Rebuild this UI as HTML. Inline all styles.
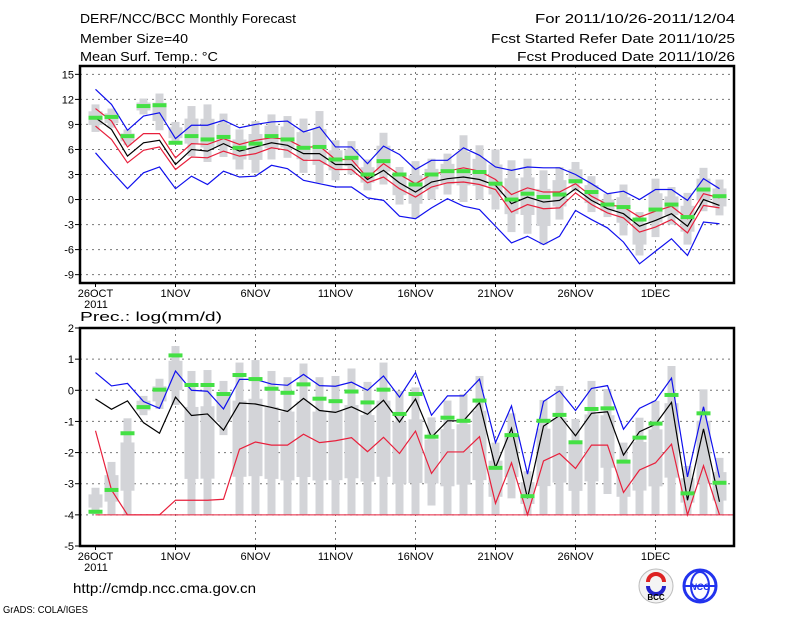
<!DOCTYPE html>
<html><head><meta charset="utf-8"><style>
body{margin:0;background:#fff;}
svg text{font-family:"Liberation Sans",sans-serif;fill:#000;}
</style></head><body>
<svg id="c" width="800" height="618" viewBox="0 0 800 618" xmlns="http://www.w3.org/2000/svg">
<text x="80" y="23" font-size="13" textLength="216" lengthAdjust="spacingAndGlyphs">DERF/NCC/BCC Monthly Forecast</text>
<text x="80" y="43" font-size="13" textLength="108" lengthAdjust="spacingAndGlyphs">Member Size=40</text>
<text x="80" y="61" font-size="13" textLength="138" lengthAdjust="spacingAndGlyphs">Mean Surf. Temp.: °C</text>
<text x="735" y="23" font-size="13" text-anchor="end" textLength="200" lengthAdjust="spacingAndGlyphs">For 2011/10/26-2011/12/04</text>
<text x="735" y="43" font-size="13" text-anchor="end" textLength="244" lengthAdjust="spacingAndGlyphs">Fcst Started Refer Date 2011/10/25</text>
<text x="735" y="61" font-size="13" text-anchor="end" textLength="218" lengthAdjust="spacingAndGlyphs">Fcst Produced Date 2011/10/26</text>
<text x="80" y="321" font-size="13" textLength="142" lengthAdjust="spacingAndGlyphs">Prec.: log(mm/d)</text>
<text x="73" y="593" font-size="14" textLength="183" lengthAdjust="spacingAndGlyphs">http://cmdp.ncc.cma.gov.cn</text>
<text x="3" y="613" font-size="10" textLength="85" lengthAdjust="spacingAndGlyphs">GrADS: COLA/IGES</text>
<g>
<circle cx="656" cy="586" r="17" fill="#f4f4f4" stroke="#bbb"/>
<path d="M648 582 a8 8 0 1 1 16 0" fill="none" stroke="#d22" stroke-width="4"/>
<path d="M648 586 a8 8 0 0 0 16 0" fill="none" stroke="#22c" stroke-width="4"/>
<text x="656" y="600" font-size="8" text-anchor="middle" font-weight="bold">BCC</text>
</g>
<g>
<circle cx="700" cy="586" r="16" fill="#fff" stroke="#23e" stroke-width="3"/>
<ellipse cx="700" cy="586" rx="9" ry="14" fill="none" stroke="#23e" stroke-width="2"/>
<line x1="685" y1="586" x2="715" y2="586" stroke="#23e" stroke-width="2"/>
<text x="700" y="590" font-size="9" text-anchor="middle" font-style="italic" font-weight="bold" style="fill:#23e">NCC</text>
</g>
</svg>
<script>
// ---- Temperature panel data (40 days from 26 Oct 2011) ----
const dayLabels=["26OCT","1NOV","6NOV","11NOV","16NOV","21NOV","26NOV","1DEC"];
const tempTicks=[15,12,9,6,3,0,-3,-6,-9];
const precTicks=[2,1,0,-1,-2,-3,-4,-5];
const tBlueHi=[13.2,11.4,8.3,10,10.4,7.3,8.9,8.9,9.5,8.6,9,9.3,9.4,8.1,8.7,6.3,6.3,4.3,6.4,5.4,3.6,4.7,4.7,6.2,5.3,3.9,3.5,3.9,3.8,3.8,3,1.9,0.7,1,0,1.2,1.2,-0.1,2.5,1.3];
const tRedHi=[10.9,9.4,6.3,7.9,7.9,5,6.7,6.6,7.3,6.6,7.1,7.4,7.2,6.2,6.4,4.8,4.8,2.6,4.3,3,1.9,3,3.4,3.8,3.4,2.4,0.6,1.4,0.9,0.9,1.9,0.4,-0.6,-0.9,-2.1,-1.4,-0.8,-2.3,0.7,0.2];
const tMean=[9.8,8.4,5.2,6.8,7.1,4.2,6,5.8,6.7,5.8,6.3,6.8,6.5,5.5,5.5,4.2,4.2,2.4,3.5,2,0.9,2.1,2.5,2.7,2.4,1.7,-0.5,0.3,-0.3,-0.1,1.3,-0.1,-1.1,-1.7,-3.2,-2.5,-1.7,-3.2,0,-0.7];
const tRedLo=[8.8,7.2,4.4,5.9,6.3,3.6,5.1,5,5.8,5.2,5.5,6.2,5.9,4.7,4.7,3.6,3.6,2,2.7,1.3,0.3,1.5,2,2.1,1.8,1.2,-1.5,-0.6,-1.1,-1,0.8,-0.6,-1.6,-2.2,-3.9,-3.3,-2.4,-4,-0.7,-1];
const tBlueLo=[5.6,3.4,1.3,3.2,3.9,1.3,2.8,1.8,3.4,2.7,2.8,4.1,3.7,2.3,1.9,1.5,1.5,0.2,-0.1,-2,-2.3,-1,0.1,-0.8,-1.2,-3.2,-5.2,-4.4,-5.4,-4.4,-1.3,-2.4,-3.4,-5.1,-7.7,-6.2,-4.7,-6.7,-2.7,-2.9];
const tObs=[9.8,9.9,7.6,11.2,11.3,6.8,7.6,7.2,7.5,6.2,6.7,7.6,7.2,6.2,6.3,4.8,5,3,4.6,3,1.8,3,3.4,3.4,3.3,1.9,0,0.7,0.3,0.6,2.2,0.9,-0.6,-0.9,-2.4,-1.2,-0.6,-2.1,1.2,0.4];
const tBarHi=[11.4,10.9,8.4,12.1,12.7,9.3,11.2,11.4,10.3,8.4,9.4,10.2,10,9.7,10.6,7.1,7,4.8,8,3.9,4.6,4.9,5.5,7.7,6.5,6,4.7,4.9,3.5,3.9,4.5,2.8,0.7,1.8,-1.5,2.5,1.5,0.8,3.8,2.4];
const tBarLo=[8.1,8.6,6.5,10.2,8.3,6.7,5.2,4.5,5.1,3.6,3.2,4.8,5,3.2,2,2.3,3,1.1,1.8,-0.6,-2.2,0,0.6,-0.3,0,-1.2,-3.9,-4.1,-5.4,-2.4,1,-1.5,-2.1,-4.3,-6.7,-4.5,-3,-5.4,-1.4,-1.9];
// ---- Precipitation panel data ----
const pBlue=[0.57,0.14,0.22,-0.36,-0.58,0.62,0,-0.03,-0.6,0.35,0.35,0.2,0.16,0.51,0.15,0.13,0.26,0,0.46,-0.22,0.57,-0.8,-0.18,-0.18,0.36,-1.68,-0.5,-2.69,-0.36,-0.02,-0.65,0.06,0.15,-1.25,-0.58,-0.33,0.39,-2.78,-0.53,-2.8];
const pMean=[-0.28,-0.61,-0.34,-1.04,-1.38,-0.22,-0.81,-0.76,-1.28,-0.41,-0.44,-0.55,-0.68,-0.26,-0.65,-0.71,-0.53,-0.77,-0.32,-1.02,-0.28,-1.51,-0.98,-0.98,-0.4,-2.48,-1.22,-3.47,-1.15,-0.81,-1.46,-0.74,-0.69,-2.08,-1.33,-1.09,-0.39,-3.53,-1.24,-3.58];
const pRed=[-1.3,-3.2,-4,-4,-4,-3.53,-3.53,-3.53,-3.5,-1.89,-1.66,-1.76,-1.76,-1.41,-1.68,-1.62,-1.52,-1.97,-1.51,-2.03,-1.31,-2.67,-1.98,-1.98,-1.49,-3.63,-2.33,-4,-2.27,-2.03,-2.51,-1.76,-1.76,-3.28,-2.56,-2.33,-1.73,-4,-2.42,-4];
const pObs=[-3.9,-3.2,-1.38,-0.54,0.02,1.12,0.17,0.17,-0.12,0.49,0.36,0.05,-0.08,0.19,-0.27,-0.35,-0.04,-0.39,0.02,-0.76,-0.12,-1.49,-0.88,-0.98,-0.33,-2.49,-1.44,-3.4,-0.98,-0.79,-1.67,-0.6,-0.58,-2.29,-1.52,-1.07,-0.15,-3.31,-0.74,-2.97];
const pBarHi=[-3.13,-2.3,-0.9,-0.18,0.37,1.42,0.62,0.65,0.3,0.89,0.97,0.62,0.42,0.86,0.42,0.46,0.7,0.27,0.89,-0.02,0.09,-0.87,-0.33,-0.12,0.46,-1.68,-0.74,-2.6,-0.31,0.14,-0.92,0.3,0.04,-1.68,-0.88,-0.34,0.78,-2.43,0.03,-2.17];
const pBarLo=[-3.98,-4,-4,-0.8,-0.6,-0.47,-4,-4,-1.44,-4,-4,-4,-4,-4,-4,-4,-4,-4,-4,-4,-4,-3.7,-4,-4,-4,-4,-3.47,-4,-4,-4,-4,-4,-3.33,-4,-4,-4,-4,-4,-4,-4];

const NS="http://www.w3.org/2000/svg";
const svg=document.getElementById('c');
const X0=95.5, DX=16, L=80, R=734;
function xs(i){return X0+DX*i;}
function mk(tag,attrs,parent){const e=document.createElementNS(NS,tag);for(const k in attrs)e.setAttribute(k,attrs[k]);(parent||svg).appendChild(e);return e;}

function panel(name,top,bottom,vmax,vmin,ticks,bars,hi,lo,obs,lines,floor){
  const ys=v=>top+ (vmax-v)/(vmax-vmin)*(bottom-top);
  const g=mk('g',{});
  
  
  // gridlines
  ticks.forEach(t=>{
    const y=ys(t);
    if(t!==vmax&&t!==vmin){const gl=mk('line',{x1:L,x2:R,y1:y,y2:y,stroke:'#777','stroke-dasharray':'2,4','stroke-width':1},g);
    
    }
    const tk=mk('line',{x1:L-5,x2:L,y1:y,y2:y,stroke:'#000'},g);
    
    
    const tx=mk('text',{x:L-6,y:y+4,'font-size':11,'text-anchor':'end'},g);tx.textContent=t;
    
    
  });
  dayLabels.forEach((d,k)=>{
    const x=xs(k*5);
    if(k>0){const gl=mk('line',{x1:x,x2:x,y1:top,y2:bottom,stroke:'#777','stroke-dasharray':'2,4'},g);
    
    }
    const tk=mk('line',{x1:x,x2:x,y1:bottom,y2:bottom+4,stroke:'#000'},g);
    
    
    const tx=mk('text',{x:x,y:bottom+14,'font-size':11,'text-anchor':'middle'},g);tx.textContent=d;
    
    
  });
  const yr=mk('text',{x:96,y:bottom+25,'font-size':11,'text-anchor':'middle'},g);yr.textContent='2011';
  
  
  // ensemble bars
  bars.hi.forEach((h,i)=>{
    const l=bars.lo[i], x=xs(i);
    const b=mk('rect',{x:x-4,y:ys(h),width:8,height:Math.max(1,ys(l)-ys(h)),fill:'#d3d4d8'},g);
    
    
    const q3=h-(h-l)*0.25,q1=l+(h-l)*0.25;
    const bx=mk('rect',{x:x-7,y:ys(q3),width:14,height:Math.max(1,ys(q1)-ys(q3)),fill:'#d3d4d8'},g);
    
    
  });
  if(floor!==undefined){const f=mk('line',{x1:xs(0),x2:R,y1:ys(floor),y2:ys(floor),stroke:'#e8203c','stroke-width':1},g);
    
    }
  lines.forEach(s=>{
    const p=mk('polyline',{points:s.d.map((v,i)=>xs(i)+','+ys(v)).join(' '),fill:'none',stroke:s.c,'stroke-width':1.2},g);
    
    
  });
  obs.forEach((v,i)=>{
    const r=mk('rect',{x:xs(i)-7,y:ys(v)-2,width:14,height:4,fill:'#44e044'},g);
    
    
  });
  const fr=mk('rect',{x:L,y:top,width:R-L,height:bottom-top,fill:'none',stroke:'#000','stroke-width':2.5},g);
  
  
}
panel('temperature-panel',66,283,16,-10,tempTicks,{hi:tBarHi,lo:tBarLo},null,null,tObs,[
 {d:tBlueHi,c:'#1010ee',n:'temp-max-line'},{d:tBlueLo,c:'#1010ee',n:'temp-min-line'},
 {d:tRedHi,c:'#e8203c',n:'temp-upper-line'},{d:tRedLo,c:'#e8203c',n:'temp-lower-line'},
 {d:tMean,c:'#000',n:'temp-mean-line'}]);
panel('precip-panel',328,546,2,-5,precTicks,{hi:pBarHi,lo:pBarLo},null,null,pObs,[
 {d:pBlue,c:'#1010ee',n:'prec-upper-line'},{d:pRed,c:'#e8203c',n:'prec-lower-line'},
 {d:pMean,c:'#000',n:'prec-mean-line'}],-4);
</script>
</body></html>
